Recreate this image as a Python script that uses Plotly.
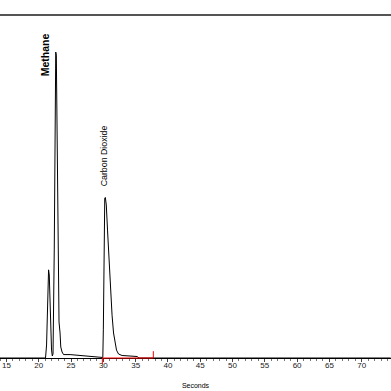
import plotly.graph_objects as go

# Chromatogram trace (seconds, detector response)
time_s = [14.0, 21.05, 21.21, 21.36, 21.52, 21.63, 21.80, 21.98, 22.10, 22.21,
          22.40, 22.52, 22.63, 22.72, 22.83, 22.88, 22.93, 23.04, 23.14, 23.30,
          23.41, 23.61, 23.84, 24.85, 26.39, 27.94, 29.49, 29.92, 30.00, 30.06,
          30.13, 30.22, 30.31, 30.46, 30.65, 30.88, 31.11, 31.35, 31.58, 31.81,
          32.04, 32.35, 32.90, 34.13, 35.22, 35.52, 74.5]
signal = [0, 0, 3.8, 16.9, 25.7, 24.2, 11.1, 2.3, 0.6, 1.2,
          31.5, 75.2, 89.2, 88.3, 66.5, 46.1, 31.5, 16.9, 10.5, 7.3,
          3.2, 1.75, 1.0, 1.0, 0.73, 0.44, 0.2, 0.15, 8.2, 28.6,
          44.6, 46.6, 46.8, 44.6, 37.3, 28.6, 19.8, 12.5, 7.3, 4.1,
          2.3, 1.17, 0.73, 0.58, 0.44, 0, 0]

# Peak labels
peak_names = ["Methane", "Carbon Dioxide"]
peak_times = [22.63, 30.31]
peak_heights = [89.2, 46.8]

# Integration baseline marker (start/end times and tick heights)
integ_times = [29.85, 37.74]
integ_ticks = [-1.75, 2.0]

fig = go.Figure()

fig.add_trace(go.Scatter(
    x=time_s, y=signal, mode="lines",
    line=dict(color="#000000", width=1),
    hoverinfo="skip", showlegend=False))

fig.add_trace(go.Scatter(
    x=[integ_times[0], integ_times[0], integ_times[1], integ_times[1]],
    y=[integ_ticks[0], 0, 0, integ_ticks[1]],
    mode="lines", line=dict(color="#ff0000", width=1),
    hoverinfo="skip", showlegend=False))

fig.add_annotation(x=peak_times[0], y=peak_heights[0], text="<b>" + peak_names[0] + "</b>",
                   textangle=-90, showarrow=False, xanchor="center", yanchor="middle",
                   xshift=-10.5, yshift=-3,
                   font=dict(family="Liberation Sans, Arial", size=10.5, color="#000000"))
fig.add_annotation(x=peak_times[1], y=peak_heights[1], text=peak_names[1],
                   textangle=-90, showarrow=False, xanchor="center", yanchor="middle",
                   xshift=-1, yshift=41.5,
                   font=dict(family="Liberation Sans, Arial", size=8.8, color="#000000"))

# top frame line
fig.add_shape(type="line", xref="paper", yref="paper", x0=0, x1=1, y0=1, y1=1,
              line=dict(color="#555555", width=2))

fig.update_layout(
    width=391, height=391,
    margin=dict(l=0, r=0, t=15, b=25, autoexpand=False),
    plot_bgcolor="#ffffff", paper_bgcolor="#ffffff",
    showlegend=False,
    xaxis=dict(
        range=[14.0, 74.54],
        anchor="free", position=0.0228,
        automargin=False,
        showline=True, linecolor="#000000", linewidth=1,
        layer="below traces",
        showgrid=False, zeroline=False,
        tick0=0, dtick=5,
        ticks="outside", ticklen=3, tickcolor="#444444", tickwidth=1,
        ticklabelstandoff=-4,
        tickfont=dict(family="Liberation Sans, Arial", size=8, color="#222222"),
        minor=dict(dtick=1, ticks="outside", ticklen=2, tickcolor="#777777", showgrid=False),
        title=dict(text="Seconds", font=dict(family="Liberation Sans, Arial", size=7, color="#000000"),
                   standoff=14),
    ),
    yaxis=dict(range=[-2.33, 100], visible=False, automargin=False,
               showgrid=False, zeroline=False),
)

fig.write_html("out.html", config={"displayModeBar": False},
               post_script="document.body.style.margin='0';document.body.style.overflow='hidden';")
